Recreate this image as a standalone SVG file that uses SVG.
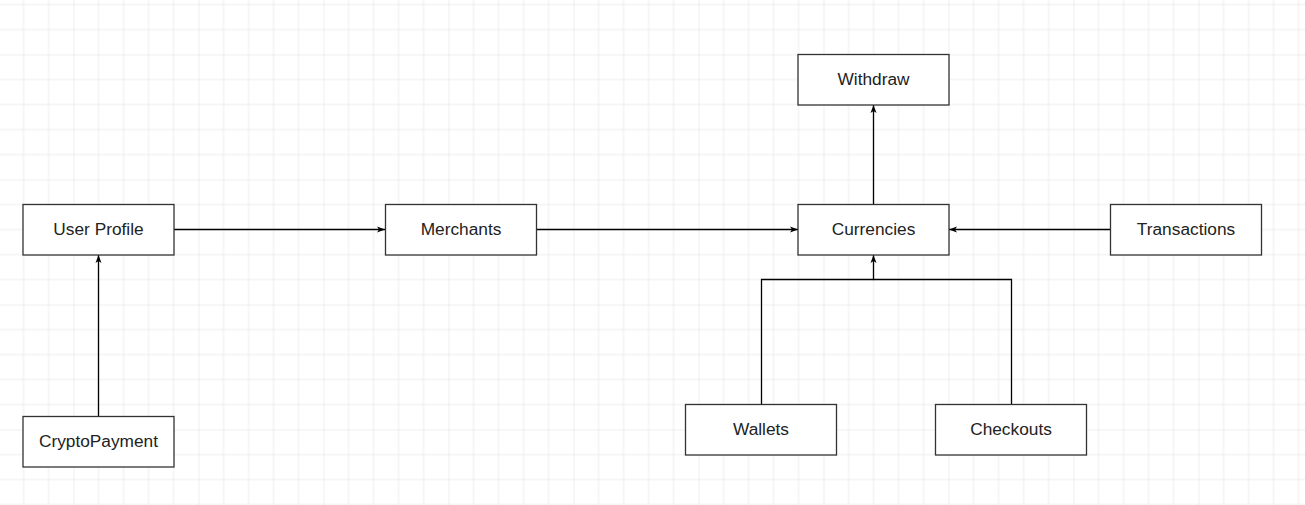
<svg xmlns="http://www.w3.org/2000/svg" width="1305" height="505" viewBox="0 0 1305 505">
<defs>
<pattern id="grid" patternUnits="userSpaceOnUse" x="73.5" y="54.5" width="125" height="125">
<path d="M25 0V125M50 0V125M75 0V125M100 0V125M0 25H125M0 50H125M0 75H125M0 100H125" stroke="#ececec" stroke-width="1" fill="none"/>
<path d="M0 0V125M0 0H125" stroke="#dddddd" stroke-width="1" fill="none"/>
</pattern>
<marker id="arr" viewBox="0 0 8 8" refX="8" refY="4" markerWidth="8" markerHeight="8" markerUnits="userSpaceOnUse" orient="auto">
<path d="M0 1 L8 4 L0 7 L2 4 Z" fill="#000"/>
</marker>
</defs>
<style>
.box{fill:#fff;stroke:#333;stroke-width:1.3}
.lbl{font-family:"Liberation Sans",Arial,sans-serif;font-size:17.3px;fill:#222;text-anchor:middle;dominant-baseline:central}
.edge{fill:none;stroke:#000;stroke-width:1.3;marker-end:url(#arr)}
.edge2{fill:none;stroke:#000;stroke-width:1.3}
</style>
<rect width="1305" height="505" fill="#fff"/>
<rect width="1305" height="505" fill="url(#grid)"/>
<g id="connectors">
<path class="edge" d="M174 229.5H385"/>
<path class="edge" d="M536.5 229.5H798"/>
<path class="edge" d="M1110 229.5H949"/>
<path class="edge" d="M873.5 204H873.5V105"/>
<path class="edge" d="M98.5 416.5V255"/>
<path class="edge" d="M761.5 404V279.5H873.5V255"/>
<path class="edge2" d="M1011.5 404V279.5H873.5"/>
</g>
<g id="user-profile"><rect class="box" x="23" y="204.5" width="151" height="50.5"/><text class="lbl" x="98.5" y="229">User Profile</text></g>
<g id="merchants"><rect class="box" x="385.5" y="204.5" width="151" height="50.5"/><text class="lbl" x="461" y="229">Merchants</text></g>
<g id="currencies"><rect class="box" x="798" y="204.5" width="151" height="50.5"/><text class="lbl" x="873.5" y="229">Currencies</text></g>
<g id="transactions"><rect class="box" x="1110.5" y="204.5" width="151" height="50.5"/><text class="lbl" x="1186" y="229">Transactions</text></g>
<g id="withdraw"><rect class="box" x="798" y="54.5" width="151" height="50.5"/><text class="lbl" x="873.5" y="79">Withdraw</text></g>
<g id="cryptopayment"><rect class="box" x="23" y="416.5" width="151" height="50.5"/><text class="lbl" x="98.5" y="441">CryptoPayment</text></g>
<g id="wallets"><rect class="box" x="685.5" y="404.5" width="151" height="50.5"/><text class="lbl" x="761" y="429">Wallets</text></g>
<g id="checkouts"><rect class="box" x="935.5" y="404.5" width="151" height="50.5"/><text class="lbl" x="1011" y="429">Checkouts</text></g>
</svg>
